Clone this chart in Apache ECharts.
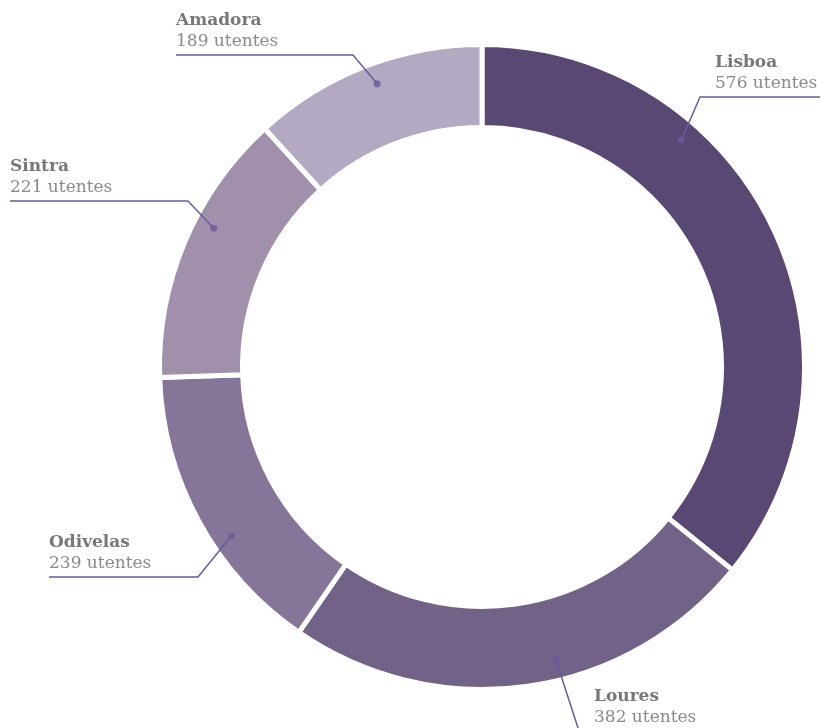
<!DOCTYPE html>
<html>
<head>
<meta charset="utf-8">
<style>
  html, body { margin: 0; padding: 0; background: #fff; }
  #chart { width: 823px; height: 728px; }
</style>
<script src="https://cdn.jsdelivr.net/npm/echarts@6/dist/echarts.min.js"></script>
</head>
<body>
<div id="chart"></div>
<script>
// dados
const concelhos = ["Lisboa", "Loures", "Odivelas", "Sintra", "Amadora"];
const utentes = [576, 382, 239, 221, 189];
const cores = ["#584873", "#726287", "#857699", "#a090ac", "#b4a9c2"];

// leader lines: bend point, outer end of underline, where in the slice the dot sits (0..1)
const leaders = [
    { bend: [700, 97], end: 820, at: 0.32 },
    { bend: [579, 731], end: 698, at: 0.43 },
    { bend: [198, 577], end: 49, at: 0.40 },
    { bend: [188, 201], end: 10, at: 0.59 },
    { bend: [353, 55], end: 176, at: 0.52 },
];

const total = utentes.reduce((a, b) => a + b, 0);
const dotR = 302;
const lineColor = "#6b5a9b";
const font = "DejaVu Serif";

// posição angular dos pontos (em unidades de utentes)
let acc = 0;
const dots = utentes.map((v, i) => {
    const a = acc + v * leaders[i].at;
    acc += v;
    return [dotR, a];
});

const chart = echarts.init(document.getElementById("chart"));

const pieBase = {
    type: "pie",
    center: [482, 367],
    radius: [239.5, 322.5],
    startAngle: 90,
    clockwise: true,
    emphasis: { disabled: true },
};

const option = {
    animation: false,
    polar: { center: [482, 367], radius: 320 },
    angleAxis: {
        type: "value", min: 0, max: total, startAngle: 90, clockwise: true,
        show: false, splitLine: { show: false }
    },
    radiusAxis: { type: "value", min: 0, max: 320, show: false, splitLine: { show: false } },
    series: [
        {
            // anel
            ...pieBase,
            z: 2,
            data: concelhos.map((n, i) => ({
                name: n,
                value: utentes[i],
                itemStyle: { color: cores[i] },
            })),
            itemStyle: { borderColor: "#fff", borderWidth: 5 },
            label: { show: false },
            labelLine: { show: false },
        },
        {
            // pontos
            type: "scatter",
            coordinateSystem: "polar",
            data: dots,
            symbolSize: 7,
            itemStyle: { color: lineColor },
            silent: true,
            z: 10,
        },
        {
            // etiquetas + linhas, por cima do anel
            ...pieBase,
            z: 5,
            silent: true,
            data: concelhos.map((n, i) => ({ name: n, value: utentes[i] })),
            itemStyle: { color: "rgba(0,0,0,0)", borderWidth: 0 },
            label: {
                show: true,
                position: "outside",
                overflow: "none",
                formatter: "{n|{b}}\n{v|{c} utentes}",
                rich: {
                    n: { fontFamily: font, fontWeight: "bold", fontSize: 17, color: "#777", lineHeight: 21 },
                    v: { fontFamily: font, fontSize: 17, color: "#8a8a8a", lineHeight: 21 },
                },
            },
            labelLine: {
                show: true,
                length: 10,
                length2: 10,
                lineStyle: { color: lineColor, width: 1.5 },
            },
            labelLayout: function (params) {
                const L = leaders[params.dataIndex];
                const right = L.end > L.bend[0];
                const dot = chart.convertToPixel({ seriesIndex: 1 }, dots[params.dataIndex]);
                return {
                    x: right ? L.bend[0] + 15 : L.end,
                    y: L.bend[1] - 3,
                    align: "left",
                    verticalAlign: "bottom",
                    labelLinePoints: [dot, L.bend, [L.end, L.bend[1]]],
                };
            },
        },
    ],
};

chart.setOption(option);
</script>
</body>
</html>
